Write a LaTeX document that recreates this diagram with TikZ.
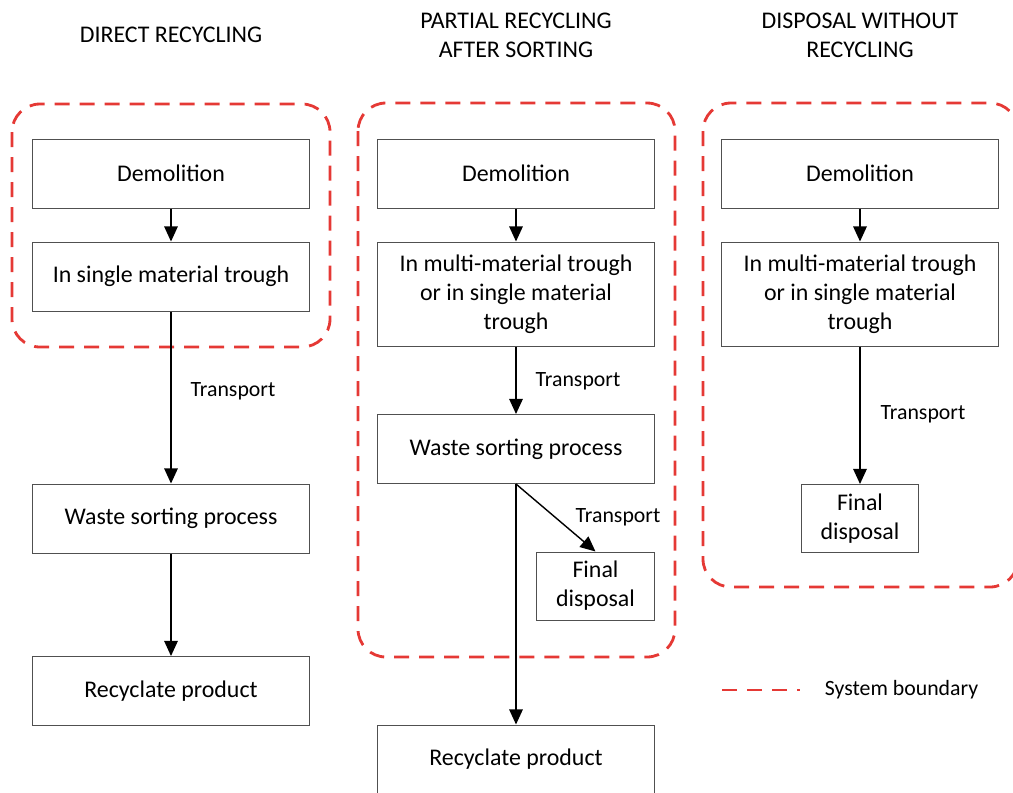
\documentclass[tikz,border=0pt]{standalone}
\usepackage{fontspec}
\setmainfont{Carlito}
\usetikzlibrary{positioning,arrows.meta}
\definecolor{boundary}{HTML}{E53935}
\definecolor{edge}{HTML}{505050}

\begin{document}
\begin{tikzpicture}[x=0.025cm,y=-0.025cm,
      box/.style={draw=edge,line width=0.7pt,minimum width=6.9cm,minimum height=1.725cm,
                  inner sep=2pt,align=center,font=\fontsize{17}{20.6}\selectfont},
      tallbox/.style={box,minimum height=2.6cm},
      smallbox/.style={box,minimum width=2.925cm,minimum height=1.7cm},
      title/.style={align=center,font=\fontsize{17}{20.6}\selectfont},
      lbl/.style={font=\fontsize{15.5}{18}\selectfont},
      flow/.style={line width=1pt,-{Triangle[length=0.38cm,width=0.34cm]}},
      sysb/.style={draw=boundary,line width=2pt,dash pattern=on 0.375cm off 0.25cm,rounded corners=0.7cm}]

    \useasboundingbox (0,0) rectangle (1013,792);

    % system boundaries
    \draw[sysb] (12,104) rectangle (330,347);
    \draw[sysb] (358,103) rectangle (675,657);
    \draw[sysb] (703,103) rectangle (1018,587);

    % titles
    \node[title] (t1) at (171,35) {DIRECT RECYCLING};
    \node[title] (t2) at (516,35) {PARTIAL RECYCLING\\AFTER SORTING};
    \node[title] (t3) at (860,35) {DISPOSAL WITHOUT\\RECYCLING};

    % direct recycling
    \node[box] (demo1)  at (171,173.5) {Demolition};
    \node[box] (trough1) at (171,276.5) {In single material trough};
    \node[box] (sort1)  at (171,518.5) {Waste sorting process};
    \node[box] (recyc1) at (171,691) {Recyclate product};

    % partial recycling
    \node[box]      (demo2)   at (516,173.5) {Demolition};
    \node[tallbox]  (trough2) at (516,294) {In multi-material trough\\or in single material\\trough};
    \node[box]      (sort2)   at (516,449) {Waste sorting process};
    \node[smallbox] (final2)  at (595.5,586) {Final\\disposal};
    \node[box]      (recyc2)  at (516,759.5) {Recyclate product};

    % disposal
    \node[box]      (demo3)   at (860,173.5) {Demolition};
    \node[tallbox]  (trough3) at (860,294) {In multi-material trough\\or in single material\\trough};
    \node[smallbox] (final3)  at (860,518.5) {Final\\disposal};

    \draw[flow] (demo1) -- (trough1);
    \draw[flow] (trough1) -- (sort1);
    \draw[flow] (sort1) -- (recyc1);

    \draw[flow] (demo2) -- (trough2);
    \draw[flow] (trough2) -- (sort2);
    \draw[flow] (sort2.south) -- (final2.north);
    \draw[flow] (sort2.south) -- (recyc2.north);

    \draw[flow] (demo3) -- (trough3);
    \draw[flow] (trough3) -- (final3);

    \node[lbl] (tr1) at (233,391) {Transport};
    \node[lbl] (tr2) at (578,381) {Transport};
    \node[lbl] (tr3) at (618,517) {Transport};
    \node[lbl] (tr4) at (923,414) {Transport};

    % legend
    \coordinate (lega) at (722,690);
    \coordinate (legb) at (800,690);
    \draw[boundary,line width=2pt,dash pattern=on 0.375cm off 0.25cm] (lega) -- (legb);
    \node[lbl,anchor=west] (legtxt) at (820,690) {System boundary};
  \end{tikzpicture}
\end{document}
